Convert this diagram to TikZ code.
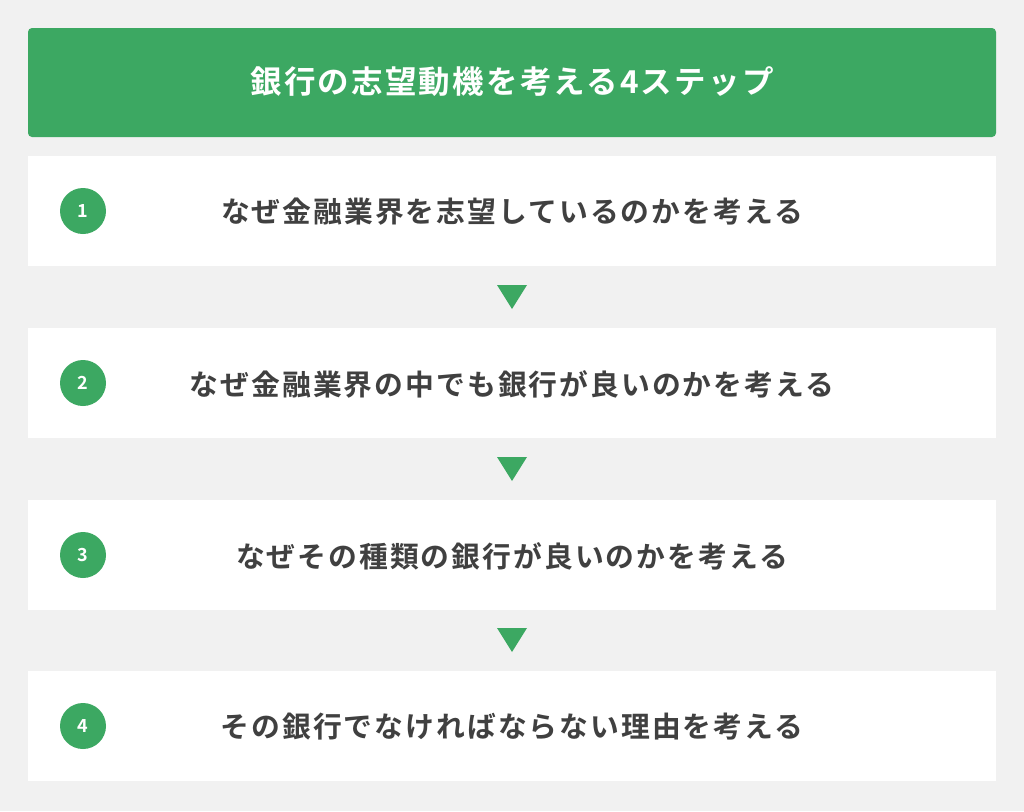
\documentclass[tikz,border=0pt]{standalone}
\usepackage{fontspec}
\newfontfamily\jpb[LetterSpace=7]{Noto Sans CJK JP Bold}
\newfontfamily\jph[LetterSpace=7]{Noto Sans CJK JP Bold}
\newfontfamily\numf{Noto Sans CJK JP Bold}
\definecolor{bg}{HTML}{F1F1F1}
\definecolor{grn}{HTML}{3CA862}
\definecolor{txt}{HTML}{404040}
\tikzset{
  stepbox/.style={fill=white, draw=none},
  numdot/.style={circle, fill=grn, minimum size=46pt, inner sep=0pt, text=white, font=\numf\fontsize{18pt}{18pt}\selectfont},
  steptext/.style={text=txt, font=\jpb\fontsize{28.8pt}{30pt}\selectfont, inner sep=0pt},
  headtext/.style={text=white, font=\jph\fontsize{31.5pt}{33pt}\selectfont, inner sep=0pt},
  downtri/.style={fill=grn, draw=none}
}
\begin{document}
\begin{tikzpicture}[x=1pt,y=-1pt]
\fill[bg] (0,0) rectangle (1024,811);
\useasboundingbox (0,0) rectangle (1024,811);
\fill[grn, rounded corners=4pt] (28,28) rectangle (996,137);
\node[headtext] (head) at (512,82) {銀行の志望動機を考える4ステップ};
\foreach \i/\top/\t in {1/156/なぜ金融業界を志望しているのかを考える,
                        2/328/なぜ金融業界の中でも銀行が良いのかを考える,
                        3/500/なぜその種類の銀行が良いのかを考える,
                        4/671/その銀行でなければならない理由を考える}{
  \fill[stepbox] (28,\top) rectangle (996,\top+110);
  \node[numdot] (n\i) at (83,\top+55) {\i};
  \node[steptext] (t\i) at (512,\top+56) {\t};
}
\foreach \y in {285,457,628}{
  \fill[downtri] (497,\y) -- (527,\y) -- (512,\y+24) -- cycle;
}
\end{tikzpicture}
\end{document}
